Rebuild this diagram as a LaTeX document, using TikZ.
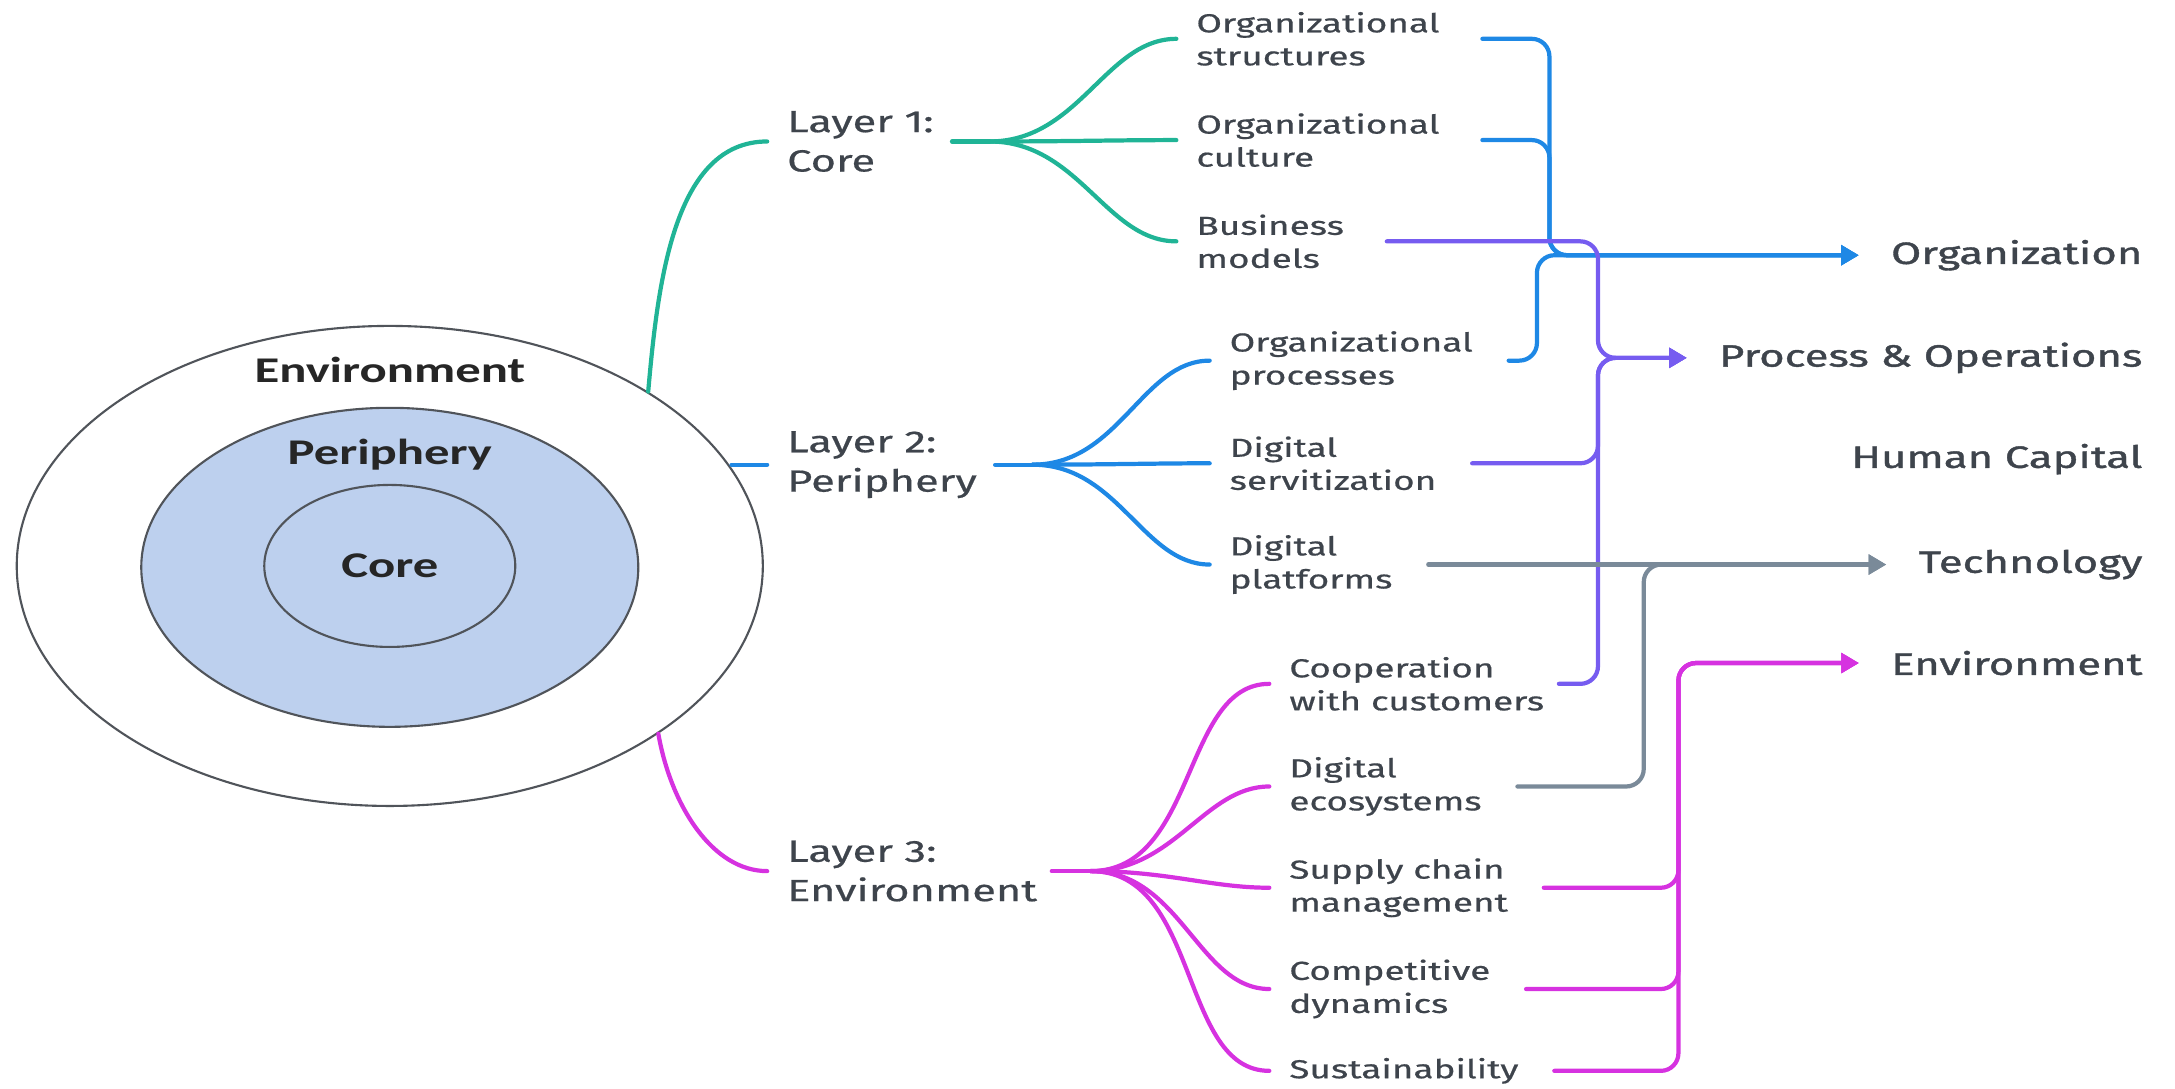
\documentclass[tikz,border=0pt]{standalone}
\usepackage{fontspec}
\setmainfont{Fira Sans}[FakeStretch=1.42, FakeBold=0.6]
\newfontfamily\tgtfont{Fira Sans}[FakeStretch=1.42, FakeBold=1.3]
\newfontfamily\ringfont{Carlito}[FakeStretch=1.4]
\usetikzlibrary{positioning,shapes.geometric,arrows.meta}

\definecolor{txt}{RGB}{62,68,76}
\definecolor{lgreen}{RGB}{32,180,150}
\definecolor{lblue}{RGB}{30,136,229}
\definecolor{lpurple}{RGB}{118,92,240}
\definecolor{lgray}{RGB}{122,138,153}
\definecolor{lmagenta}{RGB}{214,50,224}
\definecolor{pfill}{RGB}{189,208,238}
\definecolor{ringline}{RGB}{80,84,90}

\tikzset{
  ring/.style={ellipse, draw=ringline, line width=0.6pt, inner sep=0pt},
  ringlbl/.style={font=\ringfont\bfseries\fontsize{10.3}{12}\selectfont, text=black!85},
  layer/.style={anchor=west, inner sep=0pt, align=left, text=txt, font=\fontsize{8.7}{11.2}\selectfont},
  item/.style={anchor=west, inner sep=0pt, align=left, text=txt, font=\fontsize{7.4}{9.4}\selectfont},
  target/.style={anchor=east, inner sep=0pt, text=txt, font=\tgtfont\fontsize{8.75}{10}\selectfont},
  link/.style={line width=1.2pt, line cap=round},
  fan/.style={link, shorten >=5.5pt},
  bus/.style={link, rounded corners=5pt, shorten >=9pt, -{Triangle[length=5pt,width=5.5pt]}},
}

\begin{document}
\begin{tikzpicture}[x=0.01387cm, y=-0.01387cm]
  \useasboundingbox (0,0) rectangle (1568,785);

  \node[ring, fill=white, minimum width=7.46cm, minimum height=4.80cm] (env) at (281,408) {};
  \node[ring, fill=pfill, minimum width=4.97cm, minimum height=3.19cm] (peri) at (281,409) {};
  \node[ring, minimum width=2.51cm, minimum height=1.62cm] (core) at (281,408) {};
  \node[ringlbl] (envlbl)  at (281,267) {Environment};
  \node[ringlbl] (perilbl) at (281,328) {Periphery};
  \node[ringlbl] (corelbl) at (281,408) {Core};

  \node[layer] (L1) at (567,102) {Layer 1:\\Core};
  \node[layer] (L2) at (567,335) {Layer 2:\\Periphery};
  \node[layer] (L3) at (567,628) {Layer 3:\\Environment};

  \node[item] (ostr)  at (862,28)  {Organizational\\structures};
  \node[item] (ocul)  at (862,101) {Organizational\\culture};
  \node[item] (bmod)  at (862,174) {Business\\models};
  \node[item] (oproc) at (886,260) {Organizational\\processes};
  \node[item] (dserv) at (886,334) {Digital\\servitization};
  \node[item] (dplat) at (886,407) {Digital\\platforms};
  \node[item] (coop)  at (929,493) {Cooperation\\with customers};
  \node[item] (deco)  at (929,567) {Digital\\ecosystems};
  \node[item] (supp)  at (929,640) {Supply chain\\management};
  \node[item] (comp)  at (929,713) {Competitive\\dynamics};
  \node[item] (sust)  at (929,772) {Sustainability};

  \node[target] (torg)  at (1545,184) {Organization};
  \node[target] (tproc) at (1545,258) {Process \& Operations};
  \node[target] (thum)  at (1545,331) {Human Capital};
  \node[target] (ttech) at (1545,407) {Technology};
  \node[target] (tenv)  at (1545,478) {Environment};

  \coordinate (jorg)  at (1117,184);
  \coordinate (jorgb) at (1108,184);
  \coordinate (jproc) at (1152,258);
  \coordinate (jtech) at (1185,407);
  \coordinate (jenv)  at (1210,478);

  \draw[fan, lgreen]   (env.34) to[out=85,in=180] (L1.west);
  \draw[fan, lblue]    (L2.west -| env.16) -- (L2.west);
  \draw[fan, lmagenta] (env.-32) to[out=-80,in=180] (L3.west);

  \draw[link, lgreen]   ([xshift=5pt]L1.east) -- ++(27,0) coordinate (f1);
  \draw[link, lblue]    ([xshift=5pt]L2.east) -- ++(27,0) coordinate (f2);
  \draw[link, lmagenta] ([xshift=4pt]L3.east) -- ++(28,0) coordinate (f3);

  \foreach \nm in {ostr,ocul,bmod}
    \draw[fan, lgreen] (f1) to[out=0,in=180] (\nm.west);
  \foreach \nm in {oproc,dserv,dplat}
    \draw[fan, lblue] (f2) to[out=0,in=180] (\nm.west);
  \foreach \nm in {coop,deco,supp,comp,sust}
    \draw[fan, lmagenta] (f3) to[out=0,in=180] (\nm.west);

  \draw[bus, lblue] ([xshift=12pt]ostr.east) -| (jorg) -- (torg.west);
  \draw[bus, lblue] ([xshift=12pt]ocul.east) -| (jorg) -- (torg.west);
  \draw[bus, lblue] ([xshift=10pt]oproc.east) -| (jorgb) -- (torg.west);

  \draw[bus, lpurple] ([xshift=12pt]bmod.east) -| (jproc) -- (tproc.west);
  \draw[bus, lpurple] ([xshift=10pt]dserv.east) -| (jproc) -- (tproc.west);
  \draw[bus, lpurple] ([xshift=4pt]coop.east) -| (jproc) -- (tproc.west);

  \draw[bus, lgray] ([xshift=10pt]dplat.east) -- (ttech.west);
  \draw[bus, lgray] ([xshift=10pt]deco.east) -| (jtech) -- (ttech.west);

  \draw[bus, lmagenta] ([xshift=10pt]supp.east) -| (jenv) -- (tenv.west);
  \draw[bus, lmagenta] ([xshift=10pt]comp.east) -| (jenv) -- (tenv.west);
  \draw[bus, lmagenta] ([xshift=10pt]sust.east) -| (jenv) -- (tenv.west);
\end{tikzpicture}
\end{document}
